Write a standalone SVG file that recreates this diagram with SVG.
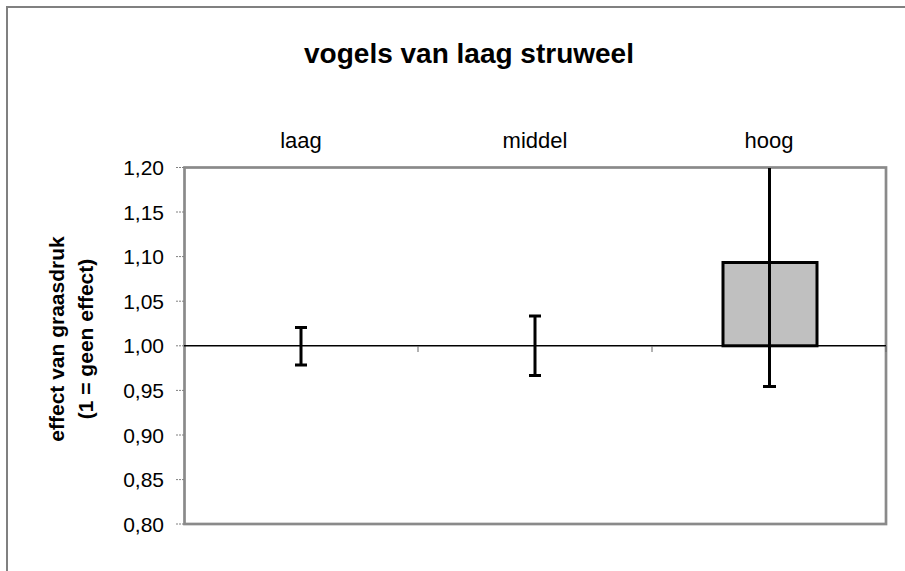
<svg xmlns="http://www.w3.org/2000/svg" width="905" height="571" viewBox="0 0 905 571">
<style>
text{font-family:"Liberation Sans",Arial,sans-serif;fill:#000}
.tick{font-size:21px;text-anchor:end}
.cat{font-size:22px;text-anchor:middle}
.ytick{stroke:#808080;stroke-width:1;stroke-dasharray:2,1}
.err{stroke:#000;stroke-width:3;fill:none}
</style>
<rect width="905" height="571" fill="#fff"/>
<path d="M7,571 V7 H905" fill="none" stroke="#808080" stroke-width="2"/>
<text x="469" y="63" font-size="28" font-weight="bold" text-anchor="middle">vogels van laag struweel</text>
<g id="plot">
<rect x="184.5" y="167.5" width="701.5" height="356.5" fill="#fff" stroke="#8a8a8a" stroke-width="2.7"/>
</g>
<g id="yaxis">
<g class="ytick">
<line x1="176" y1="167.5" x2="184" y2="167.5"/>
<line x1="176" y1="212" x2="184" y2="212"/>
<line x1="176" y1="256.6" x2="184" y2="256.6"/>
<line x1="176" y1="301.2" x2="184" y2="301.2"/>
<line x1="176" y1="345.8" x2="184" y2="345.8"/>
<line x1="176" y1="390.4" x2="184" y2="390.4"/>
<line x1="176" y1="435" x2="184" y2="435"/>
<line x1="176" y1="479.6" x2="184" y2="479.6"/>
<line x1="176" y1="524" x2="184" y2="524"/>
</g>
<text class="tick" x="164" y="175">1,20</text>
<text class="tick" x="164" y="219.5">1,15</text>
<text class="tick" x="164" y="264.1">1,10</text>
<text class="tick" x="164" y="308.7">1,05</text>
<text class="tick" x="164" y="353.3">1,00</text>
<text class="tick" x="164" y="397.9">0,95</text>
<text class="tick" x="164" y="442.5">0,90</text>
<text class="tick" x="164" y="487.1">0,85</text>
<text class="tick" x="164" y="531.5">0,80</text>
<text transform="translate(64,339) rotate(-90)" font-size="21" font-weight="bold" text-anchor="middle">effect van graasdruk</text>
<text transform="translate(92.5,339) rotate(-90)" font-size="21" font-weight="bold" text-anchor="middle">(1 = geen effect)</text>
</g>
<g id="categories">
<text class="cat" x="301" y="148">laag</text>
<text class="cat" x="535" y="148">middel</text>
<text class="cat" x="769" y="148">hoog</text>
</g>
<g id="bar-hoog">
<rect x="723" y="262.5" width="94" height="83.3" fill="#c0c0c0" stroke="#000" stroke-width="3"/>
</g>
<g id="baseline">
<line x1="184" y1="345.8" x2="886" y2="345.8" stroke="#000" stroke-width="1.5"/>
<line x1="418" y1="346" x2="418" y2="352" stroke="#666" stroke-width="1"/>
<line x1="652" y1="346" x2="652" y2="352" stroke="#666" stroke-width="1"/>
<line x1="886" y1="346" x2="886" y2="352" stroke="#666" stroke-width="1"/>
</g>
<g id="errorbars">
<path class="err" d="M301,327.5 V365 M295,327.5 H307 M295,365 H307"/>
<path class="err" d="M535,316 V375.5 M529,316 H541 M529,375.5 H541"/>
<path class="err" d="M769.5,168 V386.5 M763,386.5 H776"/>
</g>
</svg>
